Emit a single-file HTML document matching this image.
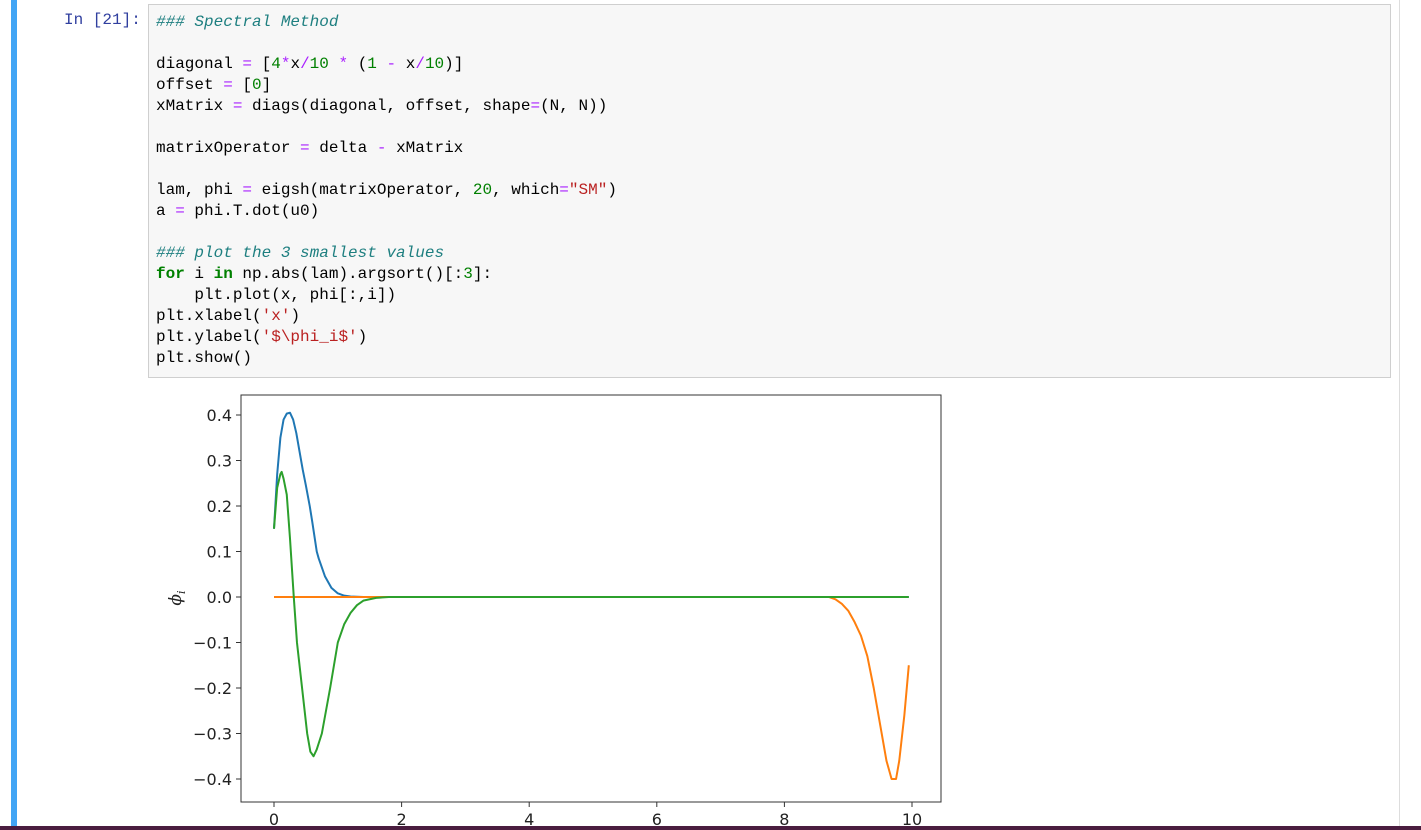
<!DOCTYPE html>
<html><head><meta charset="utf-8"><style>
body{margin:0;width:1421px;height:830px;background:#fff;position:relative;overflow:hidden;font-family:"Liberation Sans",sans-serif}
.bar{position:absolute;left:11px;top:0;width:6px;height:830px;background:#42a5f5}
.rb{position:absolute;left:1399px;top:0;width:1px;height:830px;background:#ddd}
.bot{position:absolute;left:0;top:826px;width:1421px;height:4px;background:#4a1d3f}
.prompt{position:absolute;left:64px;top:11px;font:16px "Liberation Mono",monospace;color:#303f9f}
.code{position:absolute;left:148px;top:4px;width:1241px;height:372px;background:#f7f7f7;border:1px solid #cfcfcf}
pre{margin:0;position:absolute;left:7px;top:7px;font:16px/21px "Liberation Mono",monospace;color:#000}
.c{color:#1e7f80;font-style:italic}.o{color:#aa22ff}.n{color:#008000}.k{color:#008000;font-weight:bold}.s{color:#ba2121}
svg{position:absolute;left:0;top:0}
</style></head><body>
<div class="bar"></div>
<div class="rb"></div>
<div class="prompt">In [21]:</div>
<div class="code"><pre><span class="c">### Spectral Method</span>

diagonal <span class="o">=</span> [<span class="n">4</span><span class="o">*</span>x<span class="o">/</span><span class="n">10</span> <span class="o">*</span> (<span class="n">1</span> <span class="o">-</span> x<span class="o">/</span><span class="n">10</span>)]
offset <span class="o">=</span> [<span class="n">0</span>]
xMatrix <span class="o">=</span> diags(diagonal, offset, shape<span class="o">=</span>(N, N))

matrixOperator <span class="o">=</span> delta <span class="o">-</span> xMatrix

lam, phi <span class="o">=</span> eigsh(matrixOperator, <span class="n">20</span>, which<span class="o">=</span><span class="s">"SM"</span>)
a <span class="o">=</span> phi.T.dot(u0)

<span class="c">### plot the 3 smallest values</span>
<span class="k">for</span> i <span class="k">in</span> np.abs(lam).argsort()[:<span class="n">3</span>]:
    plt.plot(x, phi[:,i])
plt.xlabel(<span class="s">'x'</span>)
plt.ylabel(<span class="s">'$\phi_i$'</span>)
plt.show()</pre></div>
<svg id="chart" width="1421" height="830"></svg>
<script>
const xTicks=[0,2,4,6,8,10];
const yTicks=[0.4,0.3,0.2,0.1,0.0,-0.1,-0.2,-0.3,-0.4];
const blueX=[0,0.05,0.1,0.15,0.2,0.25,0.3,0.35,0.4,0.45,0.5,0.56,0.6,0.67,0.7,0.8,0.9,1.0,1.1,1.2,1.4,9.95];
const blueY=[0.15,0.27,0.35,0.39,0.403,0.405,0.39,0.36,0.32,0.28,0.245,0.2,0.165,0.1,0.085,0.045,0.02,0.008,0.003,0.001,0,0];
const orangeX=[0,8.7,8.8,8.9,9.0,9.1,9.2,9.3,9.4,9.5,9.6,9.68,9.75,9.8,9.88,9.95];
const orangeY=[0,0,-0.005,-0.015,-0.03,-0.055,-0.085,-0.13,-0.2,-0.28,-0.36,-0.4,-0.4,-0.36,-0.26,-0.15];
const greenX=[0,0.05,0.1,0.12,0.15,0.2,0.25,0.31,0.36,0.44,0.52,0.57,0.62,0.67,0.75,0.88,1.0,1.1,1.2,1.3,1.4,1.6,1.8,9.95];
const greenY=[0.15,0.24,0.27,0.275,0.26,0.225,0.13,0,-0.1,-0.2,-0.3,-0.34,-0.35,-0.335,-0.3,-0.2,-0.1,-0.06,-0.035,-0.018,-0.008,-0.002,0,0];
const NS='http://www.w3.org/2000/svg';
const svg=document.getElementById('chart');
const L=241,T=395,R=941,B=802;
const sx=v=>274+v*63.8;
const sy=v=>597-v*455;
function mk(t,a){const e=document.createElementNS(NS,t);for(const k in a)e.setAttribute(k,a[k]);svg.appendChild(e);return e;}
const frame=mk('rect',{x:L,y:T,width:R-L,height:B-T,fill:'none',stroke:'#333','stroke-width':1});


xTicks.forEach(v=>{
  const t=mk('line',{x1:sx(v),x2:sx(v),y1:B,y2:B+5,stroke:'#333'});
  
  
  const l=mk('text',{x:sx(v),y:B+23,'text-anchor':'middle','font-family':'DejaVu Sans,sans-serif','font-size':16,fill:'#222'});
  l.textContent=String(v);
  
  
});
yTicks.forEach(v=>{
  const t=mk('line',{x1:L-5,x2:L,y1:sy(v),y2:sy(v),stroke:'#333'});
  
  
  const l=mk('text',{x:L-9,y:sy(v)+6,'text-anchor':'end','font-family':'DejaVu Sans,sans-serif','font-size':16,fill:'#222'});
  l.textContent=(v<0?'\u2212':'')+Math.abs(v).toFixed(1);
  
  
});
const yl=mk('text',{x:0,y:0,transform:'translate(181,598) rotate(-90)','text-anchor':'middle','font-family':'DejaVu Serif,serif','font-style':'italic','font-size':17,fill:'#222'});


const t1=document.createElementNS(NS,'tspan');t1.textContent='\u03d5';yl.appendChild(t1);
const t2=document.createElementNS(NS,'tspan');t2.textContent='i';t2.setAttribute('font-size','11');t2.setAttribute('dy','4');yl.appendChild(t2);
function line(xs,ys,c,n){
  const p=mk('polyline',{points:xs.map((x,i)=>sx(x)+','+sy(ys[i])).join(' '),fill:'none',stroke:c,'stroke-width':2,'stroke-linejoin':'round'});
  
  
}
line(blueX,blueY,'#1f77b4','series-blue');
line(orangeX,orangeY,'#ff7f0e','series-orange');
line(greenX,greenY,'#2ca02c','series-green');
</script>
<div class="bot"></div>
</body></html>
